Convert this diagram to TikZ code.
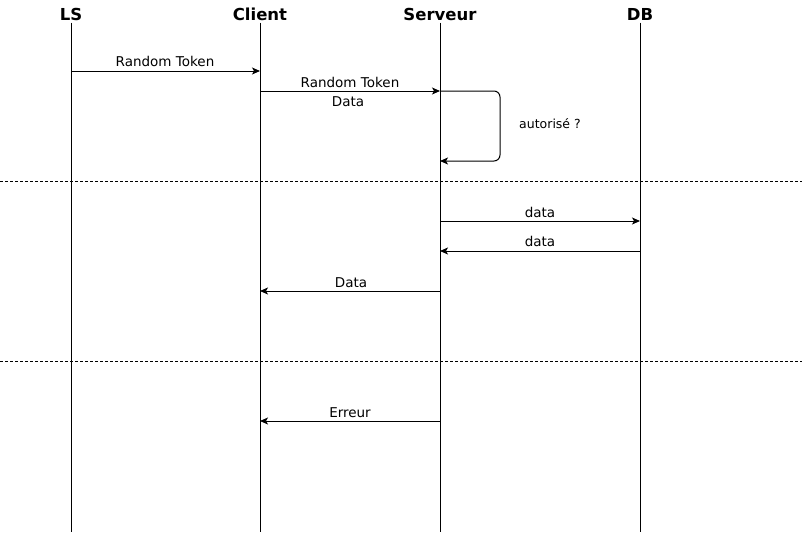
\documentclass[tikz,border=0pt]{standalone}
\usepackage{fontspec}
\setmainfont{DejaVu Sans}
\usetikzlibrary{arrows.meta}
\tikzset{
    actor/.style={font=\fontsize{16.5}{18}\selectfont\bfseries,inner sep=0pt,anchor=base},
    msg/.style={-{Stealth[length=8pt,width=7pt,inset=2pt]},line width=1pt},
    lbl/.style={font=\fontsize{13.5}{15}\selectfont,inner sep=0pt,anchor=base},
    sep/.style={dash pattern=on 3pt off 2pt,line width=1pt}
}
\begin{document}
\begin{tikzpicture}[x=1pt,y=-1pt,line width=1pt]
    \useasboundingbox (0,0) rectangle (802,533);
    %\draw[ultra thin,gray!20](0,0) grid[step=20] (802,533);
    \node[actor] (LS) at (71,20) {LS};
    \node[actor] (Client) at (260,20) {Client};
    \node[actor] (Serveur) at (440,20) {Serveur};
    \node[actor] (DB) at (640,20) {DB};
    \coordinate (bot) at (0,532);
    \foreach \a in {LS,Client,Serveur,DB}
        \draw ([yshift=-2pt]\a.south) -- (\a |- bot);
    % rows
    \coordinate (r1) at (0,71);
    \coordinate (r2) at (0,91);
    \coordinate (r3) at (0,161);
    \coordinate (r4) at (0,221);
    \coordinate (r5) at (0,251);
    \coordinate (r6) at (0,291);
    \coordinate (r7) at (0,421);
    \coordinate (loop) at (500,0);
    % messages
    \draw[msg] (LS |- r1) -- (Client |- r1);
    \node[lbl] (t1) at (165,66) {Random Token};
    \draw[msg] (Client |- r2) -- (Serveur |- r2);
    \node[lbl] (t2) at (350,87) {Random Token};
    \node[lbl] (t3) at (348,106) {Data};
    \draw[msg,rounded corners=6pt] (Serveur |- r2) -- (loop |- r2) -- (loop |- r3) -- (Serveur |- r3);
    \node[lbl,font=\fontsize{12.5}{14}\selectfont] (t4) at (550,128) {autorisé ?};
    \draw[sep] (0,181) -- (802,181);
    \draw[msg] (Serveur |- r4) -- (DB |- r4);
    \node[lbl] (t5) at (540,217) {data};
    \draw[msg] (DB |- r5) -- (Serveur |- r5);
    \node[lbl] (t6) at (540,246) {data};
    \draw[msg] (Serveur |- r6) -- (Client |- r6);
    \node[lbl] (t7) at (351,287) {Data};
    \draw[sep] (0,361) -- (802,361);
    \draw[msg] (Serveur |- r7) -- (Client |- r7);
    \node[lbl] (t8) at (350,417) {Erreur};
\end{tikzpicture}
\end{document}
